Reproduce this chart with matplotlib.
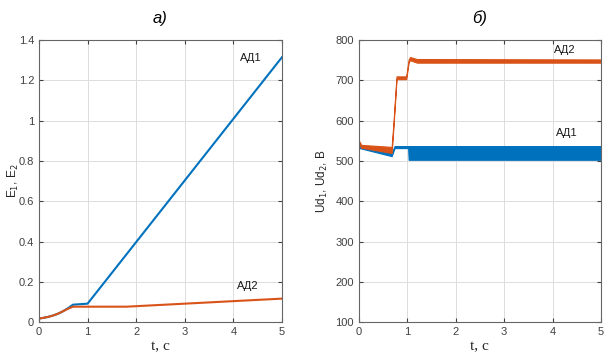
import matplotlib
matplotlib.use("Agg")
import matplotlib.pyplot as plt

# a) E1, E2
t_e1 = [0.0, 0.1, 0.2, 0.3, 0.4, 0.5, 0.6, 0.7, 1.0, 5.0]
e1 = [0.018, 0.022, 0.027, 0.034, 0.043, 0.055, 0.07, 0.087, 0.092, 1.315]
t_e2 = [0.0, 0.1, 0.2, 0.3, 0.4, 0.5, 0.6, 0.7, 1.0, 1.8, 5.0]
e2 = [0.018, 0.022, 0.027, 0.034, 0.043, 0.055, 0.067, 0.077, 0.077, 0.077, 0.117]

# b) Ud1, Ud2 (envelopes of the ripple band)
t_ud1 = [0.0, 0.02, 0.68, 0.74, 1.02, 1.03, 5.0]
ud1_hi = [540, 538, 520, 537, 537, 537, 537]
ud1_lo = [530, 532, 512, 532, 532, 503, 503]
t_ud2 = [0.0, 0.005, 0.02, 0.05, 0.68, 0.72, 0.78, 0.98, 1.03, 1.06, 1.2, 5.0]
ud2_hi = [190, 545, 548, 540, 535, 600, 710, 710, 752, 758, 753, 752]
ud2_lo = [190, 545, 540, 533, 520, 590, 703, 703, 745, 750, 744, 744]

blue = "#0072BD"
orange = "#D95319"

plt.rcParams["font.family"] = ["Liberation Sans", "DejaVu Sans"]
fig = plt.figure(figsize=(6.09, 3.58), dpi=100)
ax1 = fig.add_axes([0.064, 0.1, 0.399, 0.788])
ax2 = fig.add_axes([0.589, 0.1, 0.398, 0.788])

ax1.plot(t_e1, e1, color=blue, lw=1.5)
ax1.plot(t_e2, e2, color=orange, lw=1.5)
ax1.set_ylim(0, 1.4)
ax1.set_yticks([0, 0.2, 0.4, 0.6, 0.8, 1, 1.2, 1.4])
ax1.set_yticklabels(["0", "0.2", "0.4", "0.6", "0.8", "1", "1.2", "1.4"])
ax1.text(4.35, 1.31, "АД1", fontsize=8, ha="center", va="center", color="#1a1a1a")
ax1.text(4.3, 0.178, "АД2", fontsize=8, ha="center", va="center", color="#1a1a1a")
ax1.set_ylabel("E$_1$, E$_2$", fontsize=8.5, color="#262626")
ax1.yaxis.set_label_coords(-0.075, 0.5)
ax1.set_title("а)", fontsize=12, style="italic", pad=12)

ax2.fill_between(t_ud1, ud1_lo, ud1_hi, color=blue, lw=0.8, edgecolor=blue)
ax2.fill_between(t_ud2, ud2_lo, ud2_hi, color=orange, lw=0.8, edgecolor=orange)
ax2.set_ylim(100, 800)
ax2.set_yticks(range(100, 801, 100))
ax2.text(4.26, 775, "АД2", fontsize=8, ha="center", va="center", color="#1a1a1a")
ax2.text(4.3, 569, "АД1", fontsize=8, ha="center", va="center", color="#1a1a1a")
ax2.set_ylabel("Ud$_1$, Ud$_2$, B", fontsize=8.5, color="#262626", labelpad=4)
ax2.set_title("б)", fontsize=12, style="italic", pad=12)

for ax in (ax1, ax2):
    ax.set_xlim(0, 5)
    ax.set_xticks(range(0, 6))
    ax.grid(True, color="#dcdcdc", lw=0.7)
    ax.set_axisbelow(True)
    ax.tick_params(direction="in", length=3, labelsize=8, colors="#404040",
                   top=True, right=True)
    for s in ax.spines.values():
        s.set_color("#666666")
        s.set_linewidth(0.8)
    ax.set_xlabel("t, c", fontsize=11, family="Liberation Serif", color="#262626", labelpad=2)

fig.savefig("out.png", dpi=100)
